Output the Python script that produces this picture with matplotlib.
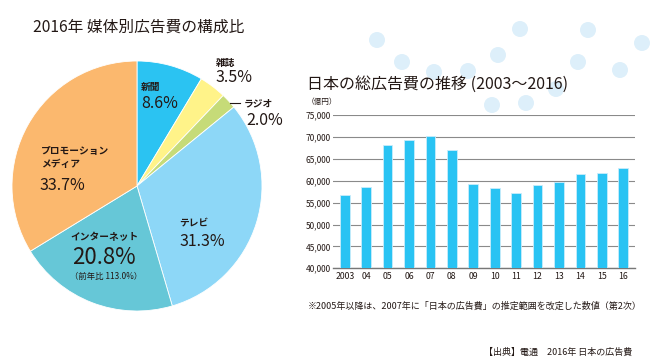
import matplotlib
matplotlib.use("Agg")
import matplotlib.pyplot as plt
from matplotlib.patches import Ellipse

plt.rcParams['font.family'] = ['Noto Sans CJK JP', 'DejaVu Sans']

# ---- data ----
pie_labels = ['新聞', '雑誌', 'ラジオ', 'テレビ', 'インターネット', 'プロモーション\nメディア']
pie_values = [8.6, 3.5, 2.0, 31.3, 20.8, 33.7]
pie_colors = ['#2BC3F2', '#FFF389', '#C6DB78', '#8DD7F7', '#66C7D7', '#FBB86E']

years = ['2003', '04', '05', '06', '07', '08', '09', '10', '11', '12', '13', '14', '15', '16']
ad_spend = [56841, 58571, 68235, 69399, 70191, 66926, 59222, 58427, 57096, 58913, 59762, 61522, 61710, 62880]
yticks = [40000, 45000, 50000, 55000, 60000, 65000, 70000, 75000]

W, H = 650, 362
fig = plt.figure(figsize=(W / 100, H / 100), dpi=100)
fig.patch.set_facecolor('white')
TXT = '#231815'

def px(x, y):
    return x / W, 1 - y / H

# decorative circles
circ = [(377, 40), (402, 62), (434, 72), (468, 71), (498, 55), (520, 29), (588, 30),
        (578, 62), (620, 70), (642, 43), (492, 105), (526, 103), (556, 89)]
for cx, cy in circ:
    fig.add_artist(Ellipse(px(cx, cy), 16 / W, 16 / H, color='#DDEFFA', lw=0, zorder=0))

# ---- pie ----
cx, cy, r = 137, 186, 125
axp = fig.add_axes([(cx - r) / W, (H - cy - r) / H, 2 * r / W, 2 * r / H])
axp.pie(pie_values, colors=pie_colors, startangle=90, counterclock=False,
        wedgeprops=dict(linewidth=0.6, edgecolor='white'))
axp.set_aspect('equal')
axp.set_xlim(-1, 1); axp.set_ylim(-1, 1)
axp.axis('off')

def t(x, y, s, size, weight='normal', ha='left', va='center', **kw):
    fig.text(x / W, 1 - y / H, s, fontsize=size, fontweight=weight, color=TXT, ha=ha, va=va, **kw)

t(33, 27, '2016年 媒体別広告費の構成比', 11.3)
t(141, 87, pie_labels[0], 7, 'bold')
t(141, 104, f'{pie_values[0]}%', 11.5)
t(216, 63, pie_labels[1], 7, 'bold')
t(216, 78, f'{pie_values[1]}%', 11.5)
fig.add_artist(plt.Line2D([230 / W, 240 / W], [1 - 103 / H, 1 - 103 / H], color=TXT, lw=0.8))
t(244, 103, pie_labels[2], 7, 'bold')
t(246, 120, f'{pie_values[2]}%', 11.5)
t(41, 151, 'プロモーション', 7, 'bold')
t(41, 164, 'メディア', 7, 'bold')
t(40, 186, f'{pie_values[5]}%', 11.5)
t(179, 223, pie_labels[3], 7, 'bold')
t(179, 241, f'{pie_values[3]}%', 11.5)
t(105, 237, pie_labels[4], 7, 'bold', ha='center')
t(104, 258, f'{pie_values[4]}%', 16, ha='center')
t(106, 277, '（前年比 113.0%）', 6, ha='center')

# ---- bar chart ----
L, R, T, B = 333, 635, 115, 268.3
axb = fig.add_axes([L / W, (H - B) / H, (R - L) / W, (B - T) / H])
x = list(range(len(years)))
axb.bar(x, ad_spend, width=0.45, color='#29C3F3', edgecolor='#C8ECFB', linewidth=0.6, zorder=3)
axb.set_ylim(40000, 75000)
axb.set_xlim(-0.55, len(years) - 0.45)
axb.set_yticks(yticks)
axb.set_yticklabels([f'{v:,}' for v in yticks], fontsize=6, color=TXT)
axb.set_xticks(x)
axb.set_xticklabels(years, fontsize=6.3, color=TXT)
axb.tick_params(length=0, pad=3)
axb.tick_params(axis='y', pad=1.5)
axb.grid(axis='y', color='#8a8a8a', lw=0.8, zorder=1)
for s in ['top', 'right', 'left']:
    axb.spines[s].set_visible(False)
axb.spines['bottom'].set_color('#777777')
axb.spines['bottom'].set_linewidth(1.0)
axb.set_facecolor('none')

t(307, 84, '日本の総広告費の推移 (2003～2016)', 11.5)
t(307, 102, '（億円）', 5.5)
t(308, 306, '※2005年以降は、2007年に「日本の広告費」の推定範囲を改定した数値（第2次）', 6.5)
t(632, 352, '【出典】電通　2016年 日本の広告費', 6.5, ha='right')

fig.savefig('out.png', dpi=100)
